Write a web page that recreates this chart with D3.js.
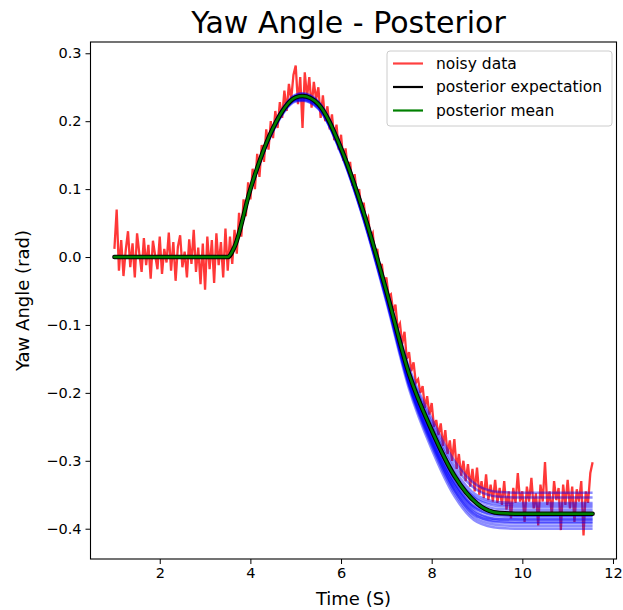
<!DOCTYPE html>
<html><head><meta charset="utf-8">
<script src="https://cdn.jsdelivr.net/npm/d3@7"></script>
<style>body{margin:0;background:#fff} text{font-family:"DejaVu Sans",sans-serif;fill:#000}</style>
</head><body><svg id="c" width="623" height="610"></svg>
<script>
// ---- DATA ----
const title = "Yaw Angle - Posterior";
const xLabel = "Time (S)";
const yLabel = "Yaw Angle (rad)";
const xTicks = [2, 4, 6, 8, 10, 12];
const yTicks = [-0.4, -0.3, -0.2, -0.1, 0.0, 0.1, 0.2, 0.3];
const legendLabels = ["noisy data", "posterior expectation", "posterior mean"];
const sampleStep = 0.05;

// noisy data, segment starting at t = 1.00
const noisyAStart = 1.00;
const noisyA = [0.012,0.07,-0.02,0.025,-0.028,0.01,0.038,-0.015,0.02,-0.03,
  0.035,0.005,-0.022,0.028,-0.012,0.018,-0.032,0.024,0.002,-0.018,
  0.03,-0.025,0.012,-0.008,0.036,-0.02,0.022,-0.035,0.015,0.032,
  -0.015,0.008,-0.03,0.026,-0.01,0.04,-0.022,0.014,-0.04,0.02,
  -0.048,0.03,-0.018,0.025,-0.038,0.035,-0.012,0.022,-0.03,0.042,
  -0.02,0.03];
// segment starting at t = 3.60
const noisyBStart = 3.60;
const noisyB = [-0.01,0.04,0.005,0.065,0.03,0.085,0.06,0.11,0.085,0.13,
  0.1,0.152,0.118,0.165,0.14,0.188,0.158,0.2,0.175,0.215,
  0.19,0.228,0.205,0.245,0.215,0.255,0.232,0.268,0.282,0.225,
  0.265,0.19,0.272,0.235,0.265,0.22,0.258,0.232,0.25,0.205,
  0.238,0.2,0.222,0.188,0.21,0.172,0.195,0.158,0.18,0.142,
  0.16,0.128,0.14,0.105,0.122,0.09,0.1,0.068,0.08,0.05,
  0.058,0.028,0.035,0.002,0.012,-0.02,-0.01,-0.04,-0.03,-0.058,
  -0.055,-0.08,-0.07,-0.105,-0.098,-0.128,-0.11,-0.15,-0.14,-0.168,
  -0.155,-0.185,-0.18,-0.2,-0.19,-0.222,-0.205,-0.232,-0.215,-0.25,
  -0.24,-0.262,-0.245,-0.278,-0.255,-0.29,-0.27,-0.3,-0.268,-0.312,
  -0.29,-0.322,-0.3,-0.33,-0.305,-0.338,-0.312,-0.345,-0.31,-0.35,
  -0.33,-0.355,-0.32,-0.358,-0.335,-0.36,-0.328,-0.362];
// segment starting at t = 9.50
const noisyCStart = 9.50;
const noisyC = [-0.34,-0.365,-0.33,-0.372,-0.345,-0.385,-0.34,-0.362,-0.318,-0.36,
  -0.345,-0.39,-0.338,-0.36,-0.325,-0.37,-0.348,-0.395,-0.335,-0.36,
  -0.302,-0.365,-0.345,-0.38,-0.33,-0.358,-0.34,-0.402,-0.335,-0.365,
  -0.328,-0.37,-0.338,-0.39,-0.342,-0.36,-0.33,-0.41,-0.345,-0.362,
  -0.318,-0.302];

// knot times for the smooth posterior curves
const curveTimes = [1.0,3.5,3.65,4.0,4.5,5.0,5.15,5.5,6.0,6.5,7.0,7.5,8.0,8.5,9.0,9.5,10.0,11.55];
const posteriorMean        = [0,0,0.015,0.10,0.19,0.235,0.237,0.225,0.16,0.065,-0.05,-0.172,-0.255,-0.322,-0.363,-0.377,-0.378,-0.378];
const posteriorExpectation = [0,0,0.015,0.10,0.19,0.235,0.237,0.225,0.16,0.065,-0.05,-0.172,-0.255,-0.322,-0.363,-0.377,-0.378,-0.378];
const sample1  = [0,0,0.015,0.101,0.193,0.239,0.241,0.229,0.164,0.069,-0.045,-0.162,-0.238,-0.300,-0.336,-0.346,-0.347,-0.347];
const sample2  = [0,0,0.015,0.100,0.192,0.238,0.240,0.228,0.163,0.068,-0.047,-0.166,-0.244,-0.307,-0.343,-0.353,-0.354,-0.354];
const sample3  = [0,0,0.015,0.100,0.191,0.237,0.239,0.227,0.162,0.067,-0.048,-0.168,-0.248,-0.313,-0.351,-0.361,-0.362,-0.362];
const sample4  = [0,0,0.015,0.100,0.190,0.235,0.237,0.225,0.160,0.065,-0.050,-0.170,-0.252,-0.318,-0.357,-0.367,-0.368,-0.368];
const sample5  = [0,0,0.015,0.099,0.189,0.234,0.236,0.224,0.159,0.064,-0.052,-0.174,-0.256,-0.322,-0.361,-0.371,-0.372,-0.372];
const sample6  = [0,0,0.014,0.099,0.188,0.233,0.235,0.223,0.157,0.061,-0.055,-0.178,-0.263,-0.331,-0.371,-0.382,-0.383,-0.383];
const sample7  = [0,0,0.014,0.098,0.188,0.232,0.234,0.222,0.156,0.060,-0.057,-0.182,-0.268,-0.336,-0.376,-0.386,-0.387,-0.387];
const sample8  = [0,0,0.014,0.098,0.187,0.231,0.232,0.220,0.155,0.058,-0.060,-0.186,-0.273,-0.342,-0.381,-0.391,-0.392,-0.392];
const sample9  = [0,0,0.014,0.097,0.186,0.230,0.231,0.219,0.153,0.056,-0.063,-0.190,-0.278,-0.347,-0.386,-0.395,-0.396,-0.396];
const sample10 = [0,0,0.013,0.097,0.185,0.229,0.230,0.218,0.152,0.054,-0.066,-0.194,-0.283,-0.352,-0.390,-0.399,-0.400,-0.400];
const sample11 = [0,0,0.016,0.102,0.190,0.236,0.238,0.224,0.156,0.058,-0.060,-0.185,-0.270,-0.335,-0.372,-0.379,-0.379,-0.379];
const sample12 = [0,0,0.015,0.100,0.190,0.236,0.238,0.225,0.158,0.062,-0.055,-0.178,-0.260,-0.322,-0.355,-0.364,-0.365,-0.365];
const sample13 = [0,0,0.015,0.099,0.189,0.234,0.236,0.223,0.157,0.060,-0.058,-0.181,-0.265,-0.332,-0.369,-0.375,-0.376,-0.376];
const sample14 = [0,0,0.014,0.099,0.188,0.233,0.235,0.222,0.155,0.057,-0.061,-0.186,-0.272,-0.340,-0.378,-0.386,-0.386,-0.386];
const sample15 = [0,0,0.014,0.098,0.187,0.232,0.233,0.221,0.154,0.056,-0.062,-0.188,-0.275,-0.344,-0.382,-0.389,-0.390,-0.390];
const sample16 = [0,0,0.015,0.100,0.190,0.236,0.238,0.226,0.160,0.064,-0.052,-0.175,-0.258,-0.326,-0.365,-0.379,-0.381,-0.381];
const samples = [sample1,sample2,sample3,sample4,sample5,sample6,sample7,sample8,sample9,sample10,sample11,sample12,sample13,sample14,sample15,sample16];

// ---- BUILD ----
const seg = (start, arr) => arr.map((v, i) => ({t: +(start + i * sampleStep).toFixed(2), v}));
const noisy = [].concat(seg(noisyAStart, noisyA), seg(noisyBStart, noisyB), seg(noisyCStart, noisyC));
const toPts = arr => arr.map((v, i) => ({t: curveTimes[i], v}));

const W = 623, H = 610;
const plot = {left: 90.5, right: 616.5, top: 42, bottom: 559};
const svg = d3.select("#c");
svg.append("rect").attr("width", W).attr("height", H).attr("fill", "#fff");

const allV = noisy.map(d => d.v).concat(...samples, posteriorMean);
const xExt = d3.extent(noisy, d => d.t);
const yExt = d3.extent(allV);
const xPad = (xExt[1] - xExt[0]) * 0.05, yPad = (yExt[1] - yExt[0]) * 0.05;
const x = d3.scaleLinear().domain([xExt[0] - xPad, xExt[1] + xPad]).range([plot.left, plot.right]);
const y = d3.scaleLinear().domain([yExt[0] - yPad, yExt[1] + yPad]).range([plot.bottom, plot.top]);

svg.append("clipPath").attr("id", "clp").append("rect")
  .attr("x", plot.left).attr("y", plot.top).attr("width", plot.right - plot.left).attr("height", plot.bottom - plot.top);
const g = svg.append("g").attr("clip-path", "url(#clp)");

const lineLin = d3.line().x(d => x(d.t)).y(d => y(d.v));
const lineSmooth = d3.line().x(d => x(d.t)).y(d => y(d.v)).curve(d3.curveMonotoneX);

g.append("path").attr("d", lineLin(noisy)).attr("fill", "none")
  .attr("stroke", "#ff0000").attr("stroke-opacity", 0.78).attr("stroke-width", 2.3).attr("stroke-linejoin", "miter");

g.selectAll(".smp").data(samples).join("path").attr("class", "smp")
  .attr("d", s => lineSmooth(toPts(s))).attr("fill", "none")
  .attr("stroke", "#0000ff").attr("stroke-opacity", 0.45).attr("stroke-width", 2.5);

g.append("path").attr("d", lineSmooth(toPts(posteriorExpectation))).attr("fill", "none")
  .attr("stroke", "#000").attr("stroke-width", 4.5).attr("stroke-linecap", "round");
g.append("path").attr("d", lineSmooth(toPts(posteriorMean))).attr("fill", "none")
  .attr("stroke", "#008000").attr("stroke-width", 2.5).attr("stroke-linecap", "round");

// axes
const fmt = v => (v < 0 ? "\u2212" : "") + Math.abs(v).toFixed(1);
const xAxis = svg.append("g").attr("transform", `translate(0,${plot.bottom})`)
  .call(d3.axisBottom(x).tickValues(xTicks).tickFormat(d3.format("d")).tickSize(5).tickPadding(4));
const yAxis = svg.append("g").attr("transform", `translate(${plot.left},0)`)
  .call(d3.axisLeft(y).tickValues(yTicks).tickFormat(fmt).tickSize(5).tickPadding(4));
[xAxis, yAxis].forEach(a => {
  a.select(".domain").remove();
  a.selectAll("text").attr("font-size", 14.5).attr("font-family", "DejaVu Sans").attr("fill", "#000");
  a.selectAll("line").attr("stroke", "#000").attr("stroke-width", 1);
});
svg.append("rect").attr("x", plot.left).attr("y", plot.top)
  .attr("width", plot.right - plot.left).attr("height", plot.bottom - plot.top)
  .attr("fill", "none").attr("stroke", "#000").attr("stroke-width", 1.1);

// labels
const cx = (plot.left + plot.right) / 2, cy = (plot.top + plot.bottom) / 2;
svg.append("text").attr("x", cx - 5).attr("y", 33).attr("text-anchor", "middle").attr("font-size", 30).text(title);
svg.append("text").attr("x", cx).attr("y", 605).attr("text-anchor", "middle").attr("font-size", 18).text(xLabel);
svg.append("text").attr("transform", `translate(29,${cy}) rotate(-90)`).attr("text-anchor", "middle").attr("font-size", 18).text(yLabel);

// legend
const lg = svg.append("g");
lg.append("rect").attr("x", 387).attr("y", 51).attr("width", 225).attr("height", 75).attr("rx", 3)
  .attr("fill", "#fff").attr("fill-opacity", 0.8).attr("stroke", "#cccccc").attr("stroke-width", 1);
const legendColors = ["#ff0000", "#000000", "#008000"];
const legendOpacity = [0.75, 1, 1];
legendLabels.forEach((lab, i) => {
  const yy = 63.5 + i * 23.5;
  lg.append("line").attr("x1", 393).attr("x2", 423).attr("y1", yy).attr("y2", yy)
    .attr("stroke", legendColors[i]).attr("stroke-opacity", legendOpacity[i]).attr("stroke-width", 2.2);
  lg.append("text").attr("x", 436).attr("y", yy).attr("dy", "0.35em").attr("font-size", 15.5).text(lab);
});
</script></body></html>
